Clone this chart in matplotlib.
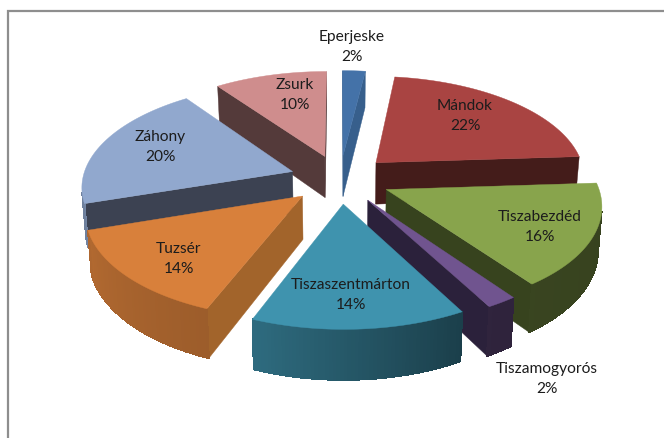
import numpy as np
import matplotlib
matplotlib.use("Agg")
import matplotlib.pyplot as plt

categories = ["Eperjeske", "Mándok", "Tiszabezdéd", "Tiszamogyorós",
              "Tiszaszentmárton", "Tuzsér", "Záhony", "Zsurk"]
values = [2, 22, 16, 2, 14, 14, 20, 10]
top_colors = ["#4472A8", "#A94442", "#88A44C", "#70548F",
              "#3F93AE", "#D8803B", "#91A8CE", "#CF8D8D"]
radial_colors = ["#375F8C", "#441C1A", "#37431E", "#2B213B",
                 "#1F4A58", "#A2642B", "#3C4252", "#543A3A"]
label_xy = [(352, 47), (465, 116), (540, 227), (547, 379),
            (351, 295), (179, 259), (160, 147), (295, 95)]

# projection settings
CX, CY = 340, 180
RX, RY = 210, 101.6
K = 0.131
HEIGHT = 43
EXPLODE = 0.24
BOTTOM_SCALE = 0.985


def project(x, y, bottom=False):
    s = 1.0 / (1.0 + K * y)
    if bottom:
        s = s * BOTTOM_SCALE
        return CX + RX * x * s, CY - RY * y * s * (1 / BOTTOM_SCALE) + HEIGHT * s
    return CX + RX * x * s, CY - RY * y * s


def shade(color, f):
    c = np.array(matplotlib.colors.to_rgb(color))
    return tuple(c * f)


def arc_factor(deg):
    # outer wall brightness around the rim (front-left bright, right dark)
    pts = [0, 90, 150, 200, 250, 290, 360]
    fac = [0.40, 0.40, 0.42, 0.72, 0.82, 0.50, 0.40]
    return np.interp(deg, pts, fac)


fig = plt.figure(figsize=(6.64, 4.39), dpi=100)
ax = fig.add_axes([0, 0, 1, 1])
ax.set_xlim(0, 664)
ax.set_ylim(439, 0)
ax.axis("off")
ax.plot([7.5, 7.5, 664], [439, 11.5, 11.5], color="#8E8E8E", lw=1.6,
        solid_joinstyle="miter")

fracs = np.array(values, float) / sum(values)
edges = np.concatenate([[0], np.cumsum(fracs)]) * 360.0
mids = (edges[:-1] + edges[1:]) / 2
order = sorted(range(len(values)),
               key=lambda i: -np.cos(np.radians(mids[i])))


def signed_area(P):
    x, y = np.array(P).T
    return 0.5 * np.sum(x * np.roll(y, -1) - np.roll(x, -1) * y)


def face(ax, a, b, color, smooth=True):
    """a, b: world points of a wall edge, ordered clockwise around the wedge."""
    P = [project(*a), project(*b), project(*b, bottom=True), project(*a, bottom=True)]
    if signed_area(P) < 0:
        ax.fill(*zip(*P), color=color, lw=0.3 if smooth else 0.6,
                antialiased=smooth, zorder=z_now)


z_now = 2
for i in order:
    m = np.radians(mids[i])
    ox, oy = EXPLODE * np.sin(m), EXPLODE * np.cos(m)
    th = np.radians(np.linspace(edges[i], edges[i + 1], 60))
    rim = [(ox + np.sin(t), oy + np.cos(t)) for t in th]
    apex = (ox, oy)
    # radial walls and rim strips, drawn only if turned toward the viewer
    face(ax, apex, rim[0], radial_colors[i])
    face(ax, rim[-1], apex, radial_colors[i])
    # rim: smooth-edged base strips, then seamless gradient strips on top
    for j in range(len(rim) - 1):
        d = np.degrees((th[j] + th[j + 1]) / 2)
        face(ax, rim[j], rim[j + 1], shade(top_colors[i], arc_factor(d)), smooth=False)
    poly = [project(*apex)] + [project(*p) for p in rim]
    ax.fill(*zip(*poly), color=top_colors[i], lw=0.3, zorder=z_now)
    z_now += 1

for name, val, (lx, ly) in zip(categories, values, label_xy):
    ax.text(lx, ly, f"{name}\n{val}%", ha="center", va="center",
            fontsize=11.2, family=["Lato", "DejaVu Sans"], color="#1c1c1c",
            linespacing=1.55, zorder=50)

fig.savefig("out.png", dpi=100, facecolor="white")
